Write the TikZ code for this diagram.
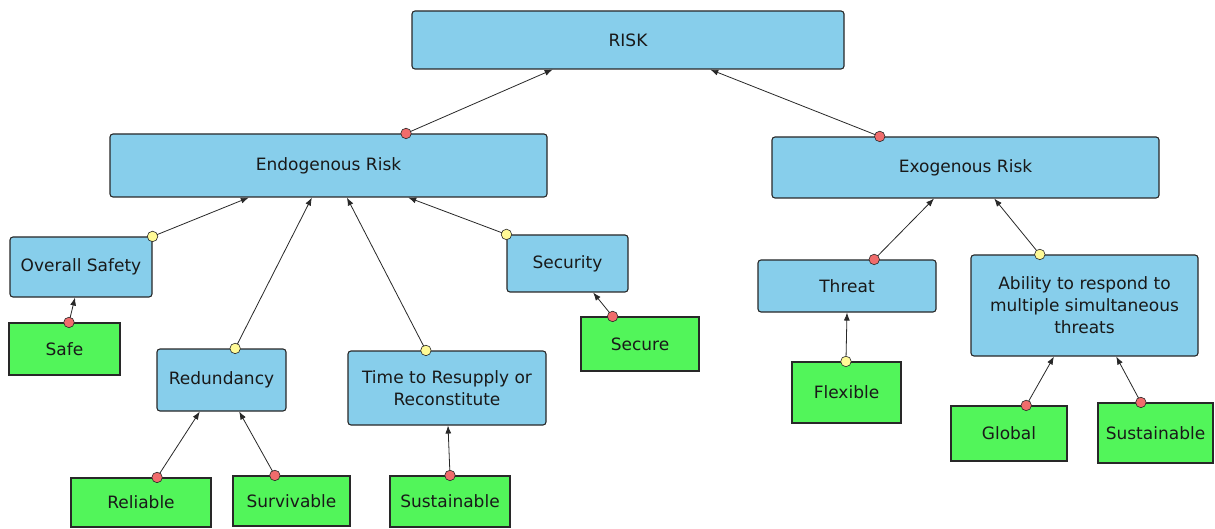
\documentclass[tikz,border=0pt]{standalone}
\usepackage{fontspec}
\setmainfont{DejaVu Sans}
\usetikzlibrary{arrows.meta,calc}

\definecolor{boxblue}{RGB}{135,206,235}
\definecolor{leafgreen}{RGB}{82,245,90}
\definecolor{dotred}{RGB}{240,108,108}
\definecolor{dotyellow}{RGB}{255,250,150}
\definecolor{edgegray}{RGB}{40,40,40}
\definecolor{ink}{RGB}{25,25,25}

\tikzset{
  concept/.style={draw=edgegray, fill=boxblue, rounded corners=3pt, line width=1.1pt,
    text=ink, align=center, inner sep=0pt, font=\fontsize{17}{22}\selectfont},
  leaf/.style={draw=edgegray, fill=leafgreen, line width=1.1pt,
    text=ink, align=center, inner sep=0pt, font=\fontsize{17}{22}\selectfont},
  link/.style={draw=edgegray, line width=0.8pt, -{Latex[length=8pt,width=6pt]}},
  reddot/.style={circle, draw=edgegray, fill=dotred, minimum size=10.5pt, inner sep=0pt, line width=0.6pt},
  yellowdot/.style={circle, draw=edgegray, fill=dotyellow, minimum size=10.5pt, inner sep=0pt, line width=0.6pt},
}

% child node, position along its top edge, parent node, position along its bottom edge, dot style
\newcommand\connect[5]{%
  \draw[link] ($(#1.north west)!#2!(#1.north east)$) -- ($(#3.south west)!#4!(#3.south east)$);
  \node[#5] at ($(#1.north west)!#2!(#1.north east)$) {};
}

\begin{document}
\begin{tikzpicture}[x=1pt,y=-1pt]
  \fill[white] (0,0) rectangle (1215,529);
  \useasboundingbox (0,0) rectangle (1215,529);

  % concept boxes
  \node[concept, minimum width=432pt, minimum height=58pt] (risk) at (628,40) {RISK};
  \node[concept, minimum width=437pt, minimum height=63pt] (endo) at (328.5,165.5) {Endogenous Risk};
  \node[concept, minimum width=387pt, minimum height=61pt] (exo) at (965.5,167.5) {Exogenous Risk};
  \node[concept, minimum width=142pt, minimum height=60pt] (safety) at (81,267) {Overall Safety};
  \node[concept, minimum width=129pt, minimum height=62pt] (redund) at (221.5,380) {Redundancy};
  \node[concept, minimum width=198pt, minimum height=74pt] (resupply) at (447,388) {Time to Resupply or\\Reconstitute};
  \node[concept, minimum width=121pt, minimum height=57pt] (security) at (567.5,263.5) {Security};
  \node[concept, minimum width=178pt, minimum height=52pt] (threat) at (847,286) {Threat};
  \node[concept, minimum width=227pt, minimum height=101pt] (ability) at (1084.5,305.5) {Ability to respond to\\multiple simultaneous\\threats};

  % attribute boxes
  \node[leaf, minimum width=111pt, minimum height=52pt] (safe) at (64.5,349) {Safe};
  \node[leaf, minimum width=140pt, minimum height=49pt] (reliable) at (141,502.5) {Reliable};
  \node[leaf, minimum width=117pt, minimum height=50pt] (survivable) at (291.5,501) {Survivable};
  \node[leaf, minimum width=120pt, minimum height=51pt] (sustainA) at (450,501.5) {Sustainable};
  \node[leaf, minimum width=118pt, minimum height=54pt] (secure) at (640,344) {Secure};
  \node[leaf, minimum width=109pt, minimum height=61pt] (flexible) at (846.5,392.5) {Flexible};
  \node[leaf, minimum width=116pt, minimum height=55pt] (global) at (1009,433.5) {Global};
  \node[leaf, minimum width=115pt, minimum height=60pt] (sustainB) at (1155.5,433) {Sustainable};

  % connectors
  \connect{endo}{0.677}{risk}{0.326}{reddot}
  \connect{exo}{0.279}{risk}{0.690}{reddot}
  \connect{safety}{1.0}{endo}{0.318}{yellowdot}
  \connect{redund}{0.605}{endo}{0.462}{yellowdot}
  \connect{resupply}{0.394}{endo}{0.542}{yellowdot}
  \connect{security}{0.0}{endo}{0.682}{yellowdot}
  \connect{safe}{0.54}{safety}{0.458}{reddot}
  \connect{reliable}{0.614}{redund}{0.333}{reddot}
  \connect{survivable}{0.359}{redund}{0.636}{reddot}
  \connect{sustainA}{0.5}{resupply}{0.505}{reddot}
  \connect{secure}{0.27}{security}{0.71}{reddot}
  \connect{threat}{0.652}{exo}{0.419}{reddot}
  \connect{ability}{0.304}{exo}{0.574}{yellowdot}
  \connect{flexible}{0.495}{threat}{0.5}{yellowdot}
  \connect{global}{0.647}{ability}{0.366}{reddot}
  \connect{sustainB}{0.374}{ability}{0.639}{reddot}
\end{tikzpicture}
\end{document}
